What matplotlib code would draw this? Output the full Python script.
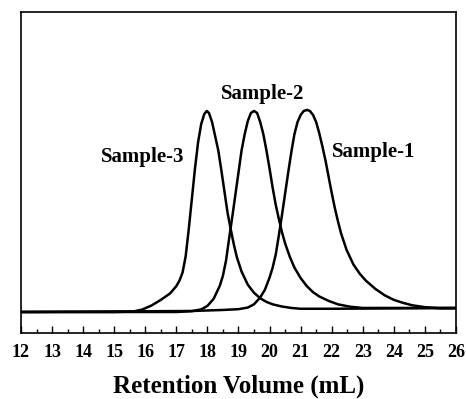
import matplotlib
matplotlib.use("Agg")
import matplotlib.pyplot as plt
from matplotlib.ticker import MultipleLocator

# Retention volume (mL) and normalized detector response
s3_x = [12.0, 15.0, 15.6, 15.9, 16.2, 16.5, 16.8, 17.0, 17.1, 17.2, 17.3, 17.4, 17.5, 17.6, 17.7,
        17.8, 17.9, 17.98, 18.05, 18.15, 18.25, 18.35, 18.45, 18.55, 18.65, 18.75, 18.85, 18.95,
        19.1, 19.3, 19.5, 19.7, 19.9, 20.1, 20.4, 20.7, 21.0, 22.0, 26.0]
s3_y = [0.0, 0.0, 0.002, 0.012, 0.032, 0.060, 0.092, 0.128, 0.155, 0.195, 0.275, 0.41, 0.56, 0.71, 0.84,
        0.93, 0.98, 0.995, 0.985, 0.94, 0.87, 0.80, 0.70, 0.595, 0.49, 0.41, 0.335, 0.27,
        0.20, 0.135, 0.095, 0.068, 0.050, 0.038, 0.027, 0.020, 0.016, 0.016, 0.02]

s2_x = [12.0, 17.0, 17.5, 17.8, 18.0, 18.2, 18.4, 18.5, 18.6, 18.7, 18.8, 18.9, 19.0, 19.1, 19.2,
        19.3, 19.4, 19.5, 19.6, 19.7, 19.8, 19.9, 20.0, 20.1, 20.2, 20.3, 20.4, 20.5, 20.65, 20.8,
        21.0, 21.2, 21.4, 21.6, 21.9, 22.2, 22.6, 23.0, 26.0]
s2_y = [0.0, 0.0, 0.004, 0.013, 0.03, 0.065, 0.13, 0.18, 0.255, 0.365, 0.47, 0.58, 0.69, 0.80, 0.88,
        0.945, 0.985, 0.995, 0.985, 0.94, 0.88, 0.80, 0.71, 0.615, 0.53, 0.46, 0.395, 0.34, 0.274, 0.22,
        0.168, 0.128, 0.098, 0.077, 0.055, 0.038, 0.026, 0.02, 0.02]

s1_x = [12.0, 17.5, 18.5, 19.0, 19.3, 19.5, 19.7, 19.85, 20.0, 20.1, 20.2, 20.3, 20.4, 20.5, 20.6,
        20.7, 20.8, 20.9, 21.0, 21.1, 21.21, 21.3, 21.4, 21.5, 21.6, 21.7, 21.8, 21.9, 22.0, 22.1,
        22.2, 22.3, 22.48, 22.7, 22.9, 23.1, 23.4, 23.7, 24.0, 24.3, 24.6, 25.0, 25.5, 26.0]
s1_y = [0.0, 0.005, 0.01, 0.014, 0.022, 0.038, 0.072, 0.11, 0.17, 0.22, 0.285, 0.38, 0.48, 0.585, 0.69,
        0.79, 0.88, 0.94, 0.975, 0.995, 1.0, 0.995, 0.975, 0.94, 0.885, 0.82, 0.75, 0.67, 0.59, 0.515,
        0.45, 0.39, 0.307, 0.235, 0.19, 0.155, 0.115, 0.083, 0.060, 0.045, 0.033, 0.024, 0.018, 0.018]

labels = ["Sample-3", "Sample-2", "Sample-1"]
label_x = [15.91, 19.78, 23.35]
label_y = [0.769, 1.079, 0.794]

x_ticks = list(range(12, 27))

serif = ["Liberation Serif", "DejaVu Serif"]

fig = plt.figure(figsize=(4.66, 3.99), dpi=100)
ax = fig.add_axes([0.045, 0.1654, 0.9335, 0.8046])

for xs, ys in [(s3_x, s3_y), (s2_x, s2_y), (s1_x, s1_y)]:
    ax.plot(xs, ys, color="black", lw=1.8, solid_joinstyle="round", solid_capstyle="round")

for t, xx, yy in zip(labels, label_x, label_y):
    ax.text(xx, yy, t, ha="center", va="center", fontsize=15, fontweight="bold", family=serif)

ax.set_xlim(12, 26)
ax.set_ylim(-0.104, 1.485)
ax.set_xticks(x_ticks)
ax.set_xticklabels([str(t) for t in x_ticks], fontsize=13, fontweight="bold", family=serif)
ax.xaxis.set_minor_locator(MultipleLocator(0.5))
ax.tick_params(axis="x", which="major", direction="in", length=5, width=1.0, pad=8, top=False)
ax.tick_params(axis="x", which="minor", direction="in", length=3, width=1.0, top=False)
ax.set_yticks([])
for sp in ax.spines.values():
    sp.set_linewidth(1.2)

ax.set_xlabel("Retention Volume (mL)", fontsize=18, fontweight="bold", family=serif, labelpad=10)

fig.savefig("out.png", dpi=100)
